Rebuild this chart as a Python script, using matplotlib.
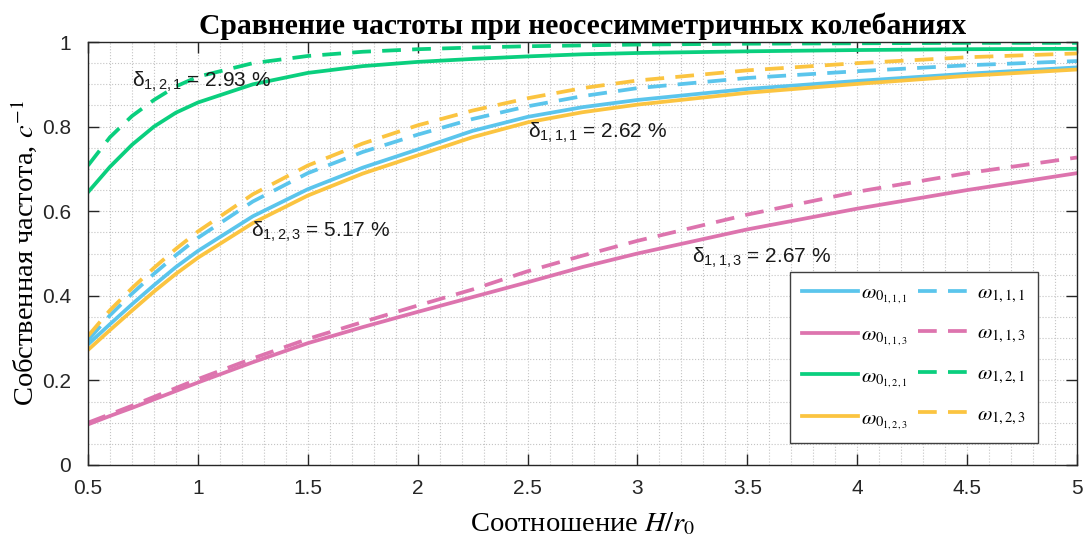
import numpy as np
import matplotlib
matplotlib.use('Agg')
import matplotlib.pyplot as plt
from matplotlib import rcParams
import matplotlib.ticker as ticker

rcParams['font.family'] = ['Liberation Sans', 'DejaVu Sans']
rcParams['mathtext.fontset'] = 'stix'

# отношение H/r0
x = [0.5, 0.6, 0.7, 0.8, 0.9, 1.0, 1.25, 1.5, 1.75, 2.0, 2.25, 2.5, 2.75, 3.0, 3.5, 4.0, 4.5, 5.0]

# осесимметричные (сплошные) и неосесимметричные (штрих) частоты
w0_111 = [0.285, 0.333, 0.380, 0.425, 0.468, 0.506, 0.588, 0.652, 0.703, 0.746, 0.790, 0.823, 0.846, 0.863, 0.889, 0.908, 0.925, 0.940]
w_111  = [0.295, 0.354, 0.405, 0.452, 0.496, 0.537, 0.623, 0.690, 0.740, 0.781, 0.818, 0.848, 0.872, 0.891, 0.915, 0.931, 0.945, 0.955]
w0_113 = [0.096, 0.116, 0.135, 0.155, 0.175, 0.195, 0.243, 0.288, 0.326, 0.362, 0.397, 0.432, 0.468, 0.500, 0.557, 0.606, 0.650, 0.690]
w_113  = [0.100, 0.120, 0.140, 0.161, 0.182, 0.203, 0.252, 0.298, 0.338, 0.377, 0.415, 0.458, 0.495, 0.530, 0.592, 0.646, 0.690, 0.727]
w0_121 = [0.645, 0.705, 0.757, 0.800, 0.833, 0.857, 0.900, 0.927, 0.943, 0.953, 0.960, 0.966, 0.971, 0.974, 0.978, 0.981, 0.983, 0.984]
w_121  = [0.708, 0.775, 0.825, 0.863, 0.895, 0.918, 0.950, 0.967, 0.977, 0.983, 0.987, 0.990, 0.992, 0.994, 0.996, 0.997, 0.998, 0.998]
w0_123 = [0.272, 0.319, 0.365, 0.410, 0.452, 0.490, 0.572, 0.637, 0.689, 0.732, 0.775, 0.810, 0.834, 0.852, 0.880, 0.901, 0.920, 0.935]
w_123  = [0.305, 0.366, 0.418, 0.466, 0.511, 0.552, 0.640, 0.708, 0.760, 0.803, 0.838, 0.867, 0.891, 0.909, 0.933, 0.950, 0.964, 0.973]

# погрешности, %
delta_labels = ['1,2,1', '1,1,1', '1,2,3', '1,1,3']
delta_values = [2.93, 2.62, 5.17, 2.67]
delta_pos = [(0.70, 0.905), (2.50, 0.785), (1.24, 0.552), (3.25, 0.49)]

colors = ['#5BC5EC', '#DD74AE', '#0ACF7E', '#FBC440']
solid = [w0_111, w0_113, w0_121, w0_123]
dashed = [w_111, w_113, w_121, w_123]
idx = ['1,1,1', '1,1,3', '1,2,1', '1,2,3']

fig = plt.figure(figsize=(10.88, 5.45), dpi=100)
ax = fig.add_axes([0.0809, 0.1468, 0.909, 0.7761])

for c, y, i in zip(colors, solid, idx):
    ax.plot(x, y, color=c, lw=2.7, label=r'$\omega_{0_{%s}}$' % i)
for c, y, i in zip(colors, dashed, idx):
    ax.plot(x, y, color=c, lw=2.7, dashes=(5, 3), label=r'$\omega_{%s}$' % i)

for lab, val, (px, py) in zip(delta_labels, delta_values, delta_pos):
    ax.text(px, py, r'$\mathregular{\delta_{%s}}$ = %.2f %%' % (lab, val),
            fontsize=15, color='#1a1a1a', va='center', ha='left')

ax.set_xlim(0.5, 5)
ax.set_ylim(0, 1)
ax.xaxis.set_major_locator(ticker.MultipleLocator(0.5))
ax.yaxis.set_major_locator(ticker.MultipleLocator(0.2))
ax.xaxis.set_minor_locator(ticker.MultipleLocator(0.1))
ax.yaxis.set_minor_locator(ticker.MultipleLocator(0.05))
fmt = ticker.FuncFormatter(lambda v, p: '%g' % round(v, 2))
ax.xaxis.set_major_formatter(fmt)
ax.yaxis.set_major_formatter(fmt)
ax.tick_params(which='major', direction='in', length=8, width=1, top=True, right=True,
               labelsize=15, colors='#262626')
ax.tick_params(axis='x', pad=10)
ax.tick_params(axis='y', pad=12)
ax.tick_params(which='minor', length=0)
ax.grid(which='both', ls=':', lw=0.8, color='#c4c4c4')
for s in ax.spines.values():
    s.set_color('#262626')
    s.set_linewidth(1.0)

ax.set_title('Сравнение частоты при неосесимметричных колебаниях', fontsize=21.3,
             fontweight='bold', family='Liberation Serif', pad=6)
ax.set_xlabel(r'Соотношение $H/r_{\mathit{0}}$', fontsize=20.5, family='Liberation Serif', labelpad=9)
ax.set_ylabel(r'Собственная частота, $c^{-1}$', fontsize=20.5, family='Liberation Serif', labelpad=2)

leg = ax.legend(ncol=2, loc='lower left', bbox_to_anchor=(0.710, 0.052), borderaxespad=0,
                fontsize=15, handlelength=2.7, columnspacing=0.5, labelspacing=0.9,
                handletextpad=0.15, borderpad=0.55, fancybox=False, framealpha=1,
                edgecolor='#404040')
leg.get_frame().set_linewidth(1.0)

plt.savefig('out.png', dpi=100)
plt.close()
